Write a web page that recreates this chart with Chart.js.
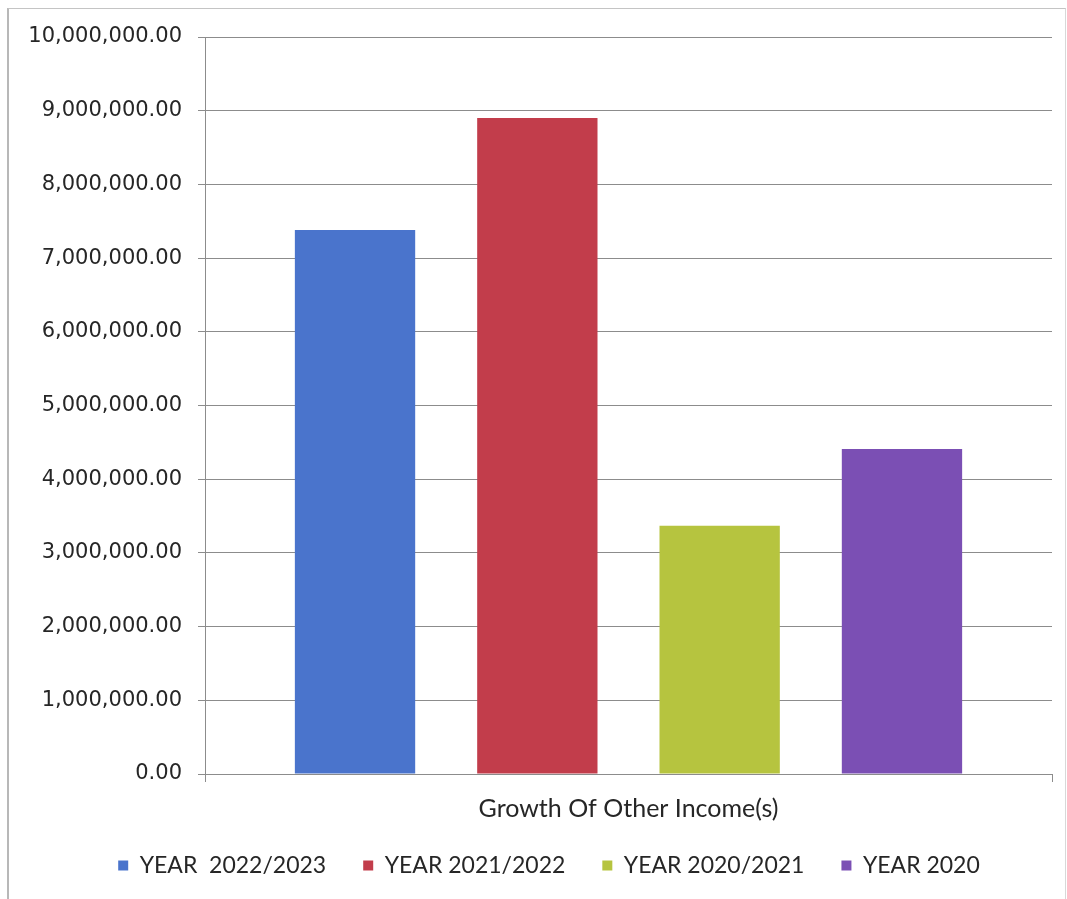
<!DOCTYPE html>
<html>
<head>
<meta charset="utf-8">
<title>Growth Of Other Income(s)</title>
<script src="https://cdn.jsdelivr.net/npm/chart.js@4.4.1/dist/chart.umd.min.js"></script>
<style>
  html, body { margin: 0; padding: 0; background: #fff; }
  #wrap { position: relative; width: 1067px; height: 899px; }
  #frame {
    position: absolute; left: 7px; top: 8px; width: 1056px; height: 900px;
    border-left: 2px solid #b8b8b8; border-top: 1px solid #c4c4c4; border-right: 1px solid #d8d8d8;
  }
  canvas { position: absolute; left: 0; top: 0; }
</style>
</head>
<body>
<div id="wrap">
  <div id="frame"></div>
  <canvas id="incomeChart" width="1067" height="899"></canvas>
</div>
<script>
const categories = ["Growth Of Other Income(s)"];
const seriesNames = ["YEAR  2022/2023", "YEAR 2021/2022", "YEAR 2020/2021", "YEAR 2020"];
const seriesValues = [[7380000], [8900000], [3370000], [4410000]];
const seriesColors = ["#4a74cc", "#c23d4b", "#b6c43f", "#7b4fb4"];
const yTicks = { min: 0, max: 10000000, step: 1000000 };

const axisGrey = "#8c8c8c";
const textColor = "#262626";

const datasets = seriesNames.map((name, i) => ({
  label: name,
  data: seriesValues[i],
  backgroundColor: seriesColors[i],
  borderWidth: 0,
  categoryPercentage: 0.861,
  barPercentage: 0.66
}));

// nudge the legend row a little to the right
const legendShift = {
  id: "legendShift",
  afterLayout(chart) {
    if (chart.legend) {
      chart.legend.left += 13;
      chart.legend.right += 13;
    }
  }
};

new Chart(document.getElementById("incomeChart"), {
  type: "bar",
  data: { labels: categories, datasets: datasets },
  plugins: [legendShift],
  options: {
    responsive: false,
    animation: false,
    layout: { padding: { left: 20, right: 15, top: 37, bottom: 12 } },
    plugins: {
      tooltip: { enabled: false },
      legend: {
        position: "bottom",
        labels: {
          boxWidth: 10,
          boxHeight: 10,
          padding: 37,
          color: textColor,
          font: { family: "Lato", size: 23 }
        }
      }
    },
    scales: {
      x: {
        offset: true,
        grid: { display: true, drawOnChartArea: false, tickLength: 8, color: axisGrey },
        border: { color: axisGrey },
        ticks: { display: false },
        // the single category name sits under the axis as its title
        title: {
          display: true,
          text: categories[0],
          color: textColor,
          padding: { top: 0, bottom: -7 },
          font: { family: "Lato", size: 25 }
        },
        afterFit: scale => { scale.height = 43; }
      },
      y: {
        min: yTicks.min,
        max: yTicks.max,
        grid: { color: axisGrey, tickLength: 7 },
        border: { color: axisGrey },
        ticks: {
          stepSize: yTicks.step,
          padding: 16,
          color: textColor,
          font: { family: "DejaVu Sans", size: 21 },
          callback: v => v.toLocaleString("en-US", { minimumFractionDigits: 2, maximumFractionDigits: 2 })
        },
        afterFit: scale => { scale.width = 185; }
      }
    }
  }
});
</script>
</body>
</html>
